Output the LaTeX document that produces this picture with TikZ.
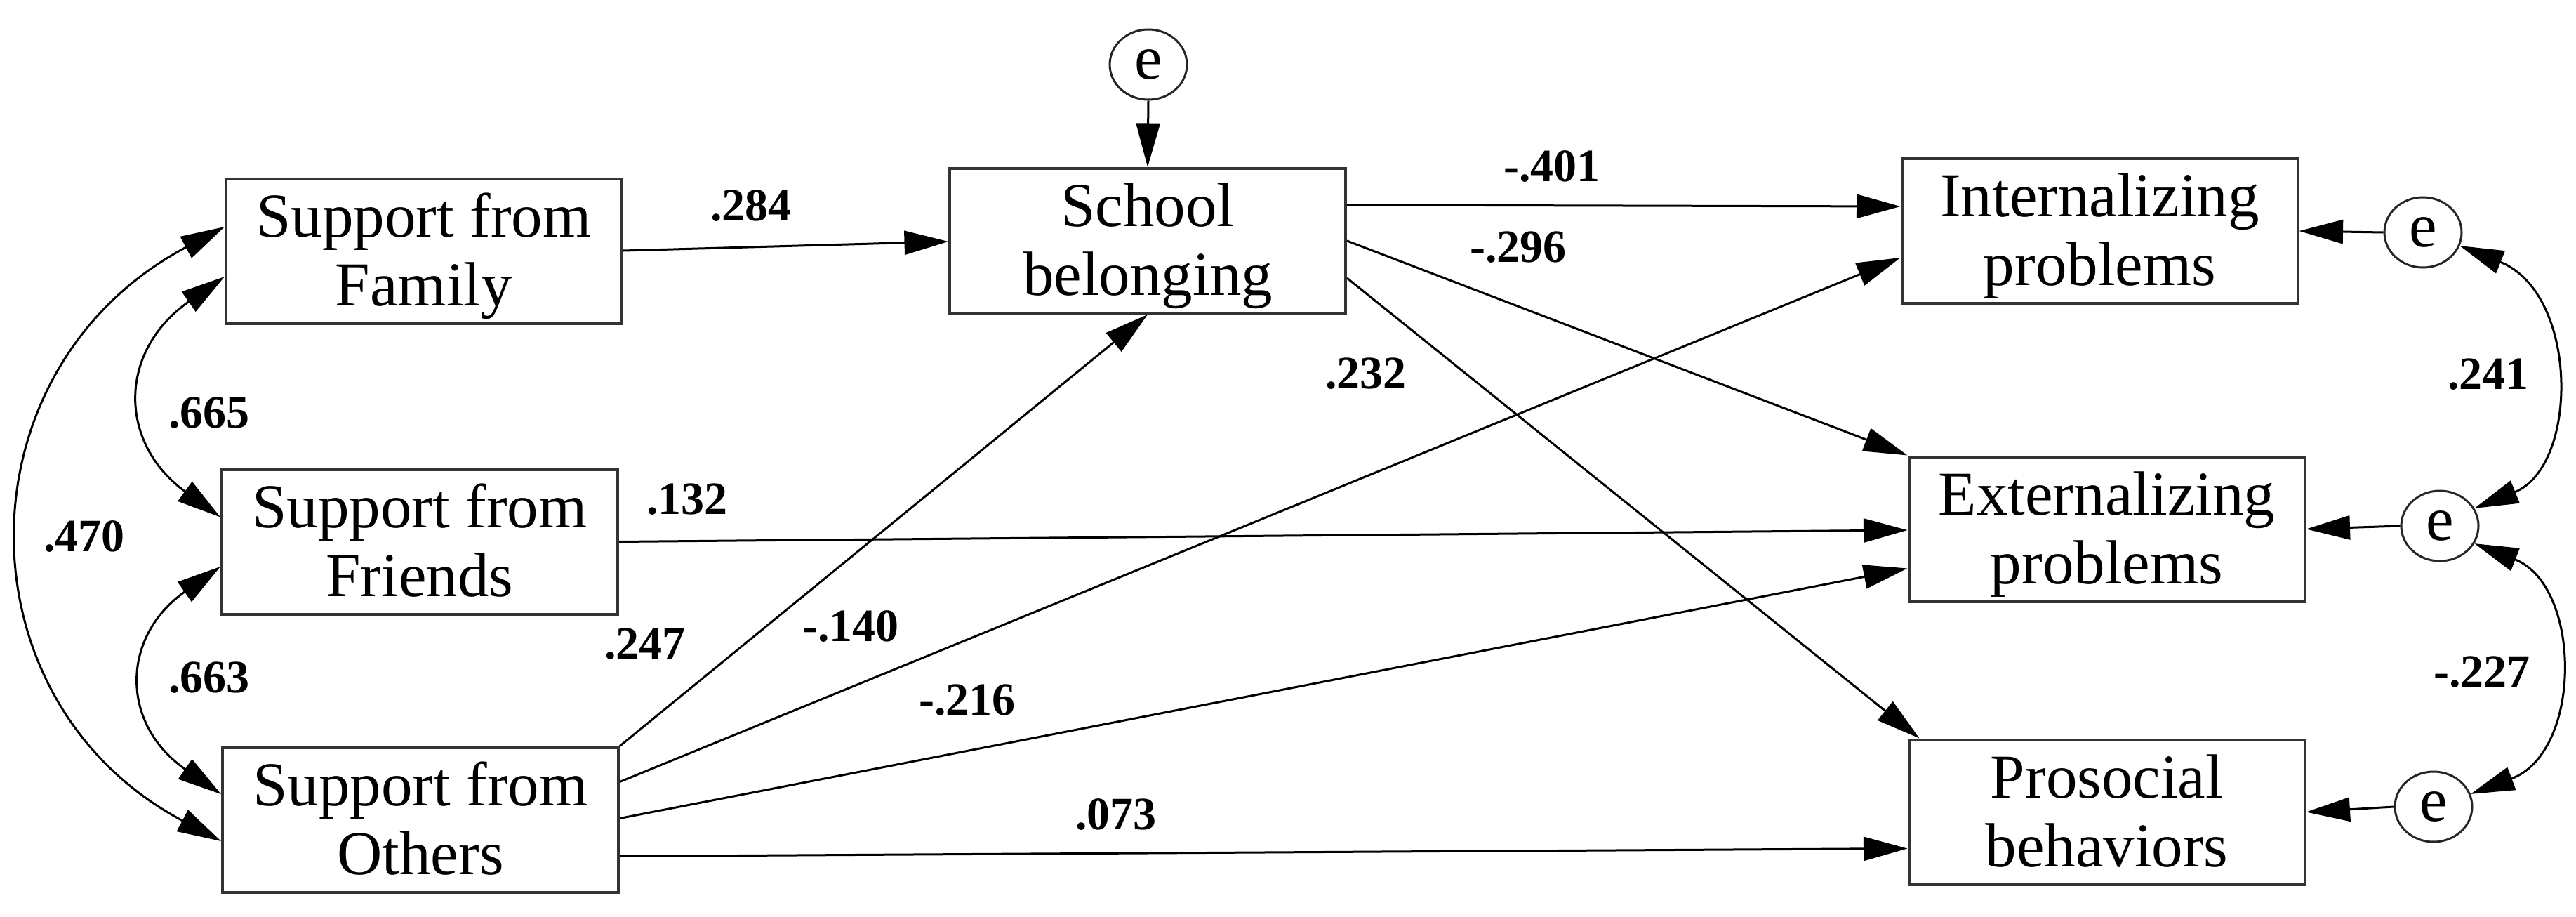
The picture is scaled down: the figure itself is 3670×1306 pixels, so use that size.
\documentclass[tikz,border=0pt]{standalone}
\usepackage{fontspec}
\setmainfont{Liberation Serif}
\usetikzlibrary{arrows.meta,calc,shapes.geometric}
\newcommand{\twolines}[2]{\rule{0pt}{15.4pt}#1\\#2\rule[-4pt]{0pt}{4pt}}
\begin{document}
\begin{tikzpicture}[x=0.2pt, y=-0.2pt,
  box/.style={draw=black!80, line width=0.8pt, minimum width=112.8pt, minimum height=41.2pt,
    inner sep=0pt, align=center, font=\fontsize{17.8}{19.6}\selectfont},
  err/.style={draw=black!85, ellipse, line width=0.6pt, minimum width=22pt, minimum height=20pt,
    inner sep=0pt, font=\fontsize{17.8}{19.6}\selectfont},
  coef/.style={inner sep=0pt, font=\fontsize{13.2}{15}\selectfont\bfseries},
  effect/.style={line width=0.6pt, -{Triangle[length=12.5pt,width=6.8pt]}},
  cov/.style={line width=0.6pt, {Triangle[length=12.5pt,width=6.8pt]}-{Triangle[length=12.5pt,width=6.8pt]}},
]
\useasboundingbox (0,0) rectangle (3670,1306);

% boxes
\node[box] (fam) at (604,358)    {\twolines{Support from}{Family}};
\node[box] (fri) at (598,771.5)  {\twolines{Support from}{Friends}};
\node[box] (oth) at (599,1167.5) {\twolines{Support from}{Others}};
\node[box] (sch) at (1635,343)   {\twolines{School}{belonging}};
\node[box] (int) at (2991.5,329) {\twolines{Internalizing}{problems}};
\node[box] (ext) at (3001.5,753.5) {\twolines{Externalizing}{problems}};
\node[box] (pro) at (3001.5,1156.5) {\twolines{Prosocial}{behaviors}};

% error terms
\node[err] (e0) at (1636,92)   {e};
\node[err] (e1) at (3452,331)  {e};
\node[err] (e2) at (3476,749)  {e};
\node[err] (e3) at (3467,1149) {e};

% paths
\draw[effect] ($(fam.east)+(0,-1)$) -- ($(sch.west)+(0,1)$);
\draw[effect] ($(sch.east)+(0,-51)$) -- ($(int.west)+(0,-35)$);
\draw[effect] (sch.east) -- (ext.north west);
\draw[effect] ($(sch.east)+(0,53)$) -- ($(pro.north west)+(17,0)$);
\draw[effect] (fri.east) -- ($(ext.west)+(0,1.5)$);
\draw[effect] (oth.north east) -- (sch.south);
\draw[effect] ($(oth.east)+(0,-54)$) -- ($(int.west)+(0,38)$);
\draw[effect] ($(oth.east)+(0,-2)$) -- ($(ext.west)+(0,56)$);
\draw[effect] ($(oth.east)+(0,52)$) -- ($(pro.west)+(0,52)$);

\draw[effect] (e0.south) -- (sch.north);
\draw[effect] (e1.west) -- (int.east);
\draw[effect] (e2.west) -- (ext.east);
\draw[effect] (e3.west) -- (pro.east);

% covariances
\draw[cov] ($(fam.west)+(0,36)$) .. controls +(-152,106) and +(-146,-106) .. ($(fri.west)+(0,-35)$);
\draw[cov] ($(fri.west)+(0,35.5)$) .. controls +(-142,100) and +(-144,-100) .. ($(oth.west)+(0,-36.5)$);
\draw[cov] ($(fam.west)+(0,-35)$) .. controls +(-381,202) and +(-377,-200) .. ($(oth.west)+(0,30.5)$);
\draw[cov] (e1.-20) .. controls +(170,68) and +(149,-60) .. (e2.27);
\draw[cov] (e2.-27) .. controls +(153,60) and +(160,-60) .. (e3.19);

% coefficients
\node[coef] (c1)  at (1070,293)  {.284};
\node[coef] (c2)  at (2211,237)  {-.401};
\node[coef] (c3)  at (2163,352)  {-.296};
\node[coef] (c4)  at (1946,532)  {.232};
\node[coef] (c5)  at (298,588)   {.665};
\node[coef] (c6)  at (120,764)   {.470};
\node[coef] (c7)  at (298,965)   {.663};
\node[coef] (c8)  at (979,711)   {.132};
\node[coef] (c9)  at (919,917)   {.247};
\node[coef] (c10) at (1212,892)  {-.140};
\node[coef] (c11) at (1378,997)  {-.216};
\node[coef] (c12) at (1590,1160) {.073};
\node[coef] (c13) at (3545,533)  {.241};
\node[coef] (c14) at (3536,957)  {-.227};
\end{tikzpicture}
\end{document}
